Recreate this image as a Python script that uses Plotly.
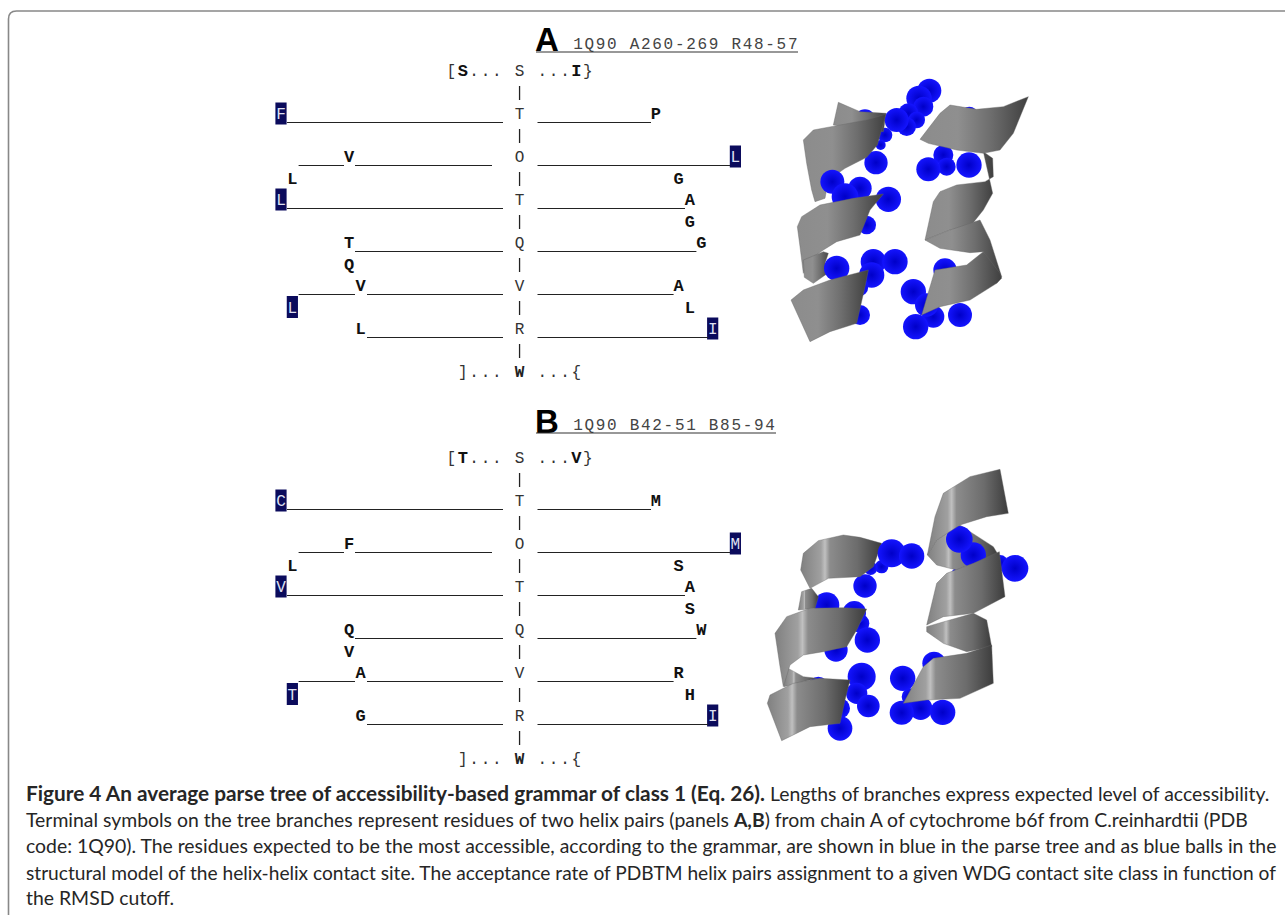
import plotly.graph_objects as go

# ---------- parse tree data ----------
TREE_SPINE = ["S", "T", "O", "T", "Q", "V", "R", "W"]
TERMINAL_COLS = [16, 26, 0, 33, 6, 40, 1, 35, 0, 36, 36, 6, 37, 6, 7, 35, 1, 36, 7, 38]
TERMINAL_ROWS = [0, 0, 1, 1, 2, 2, 2.5, 2.5, 3, 3, 3.5, 4, 4, 4.5, 5, 5, 5.5, 5.5, 6, 6]
ACCESSIBLE = [2, 5, 8, 16, 19]
A_RESIDUES = list("SIFPVLLGLAGTGQVALLLI")
B_RESIDUES = list("TVCMFMLSVASQWVARTHGI")
BRANCH_X0 = [287, 298.6, 355, 287, 355, 298.6, 367, 367, 537.5, 537.5, 537.5, 537.5, 537.5, 537.5]
BRANCH_X1 = [503, 344, 492, 503, 503, 355, 503, 503, 651, 730, 685, 696.4, 673.6, 708]
BRANCH_ROW = [1, 2, 2, 3, 4, 5, 5, 6, 1, 2, 3, 4, 5, 6]
PANEL_TOP = {"A": 71, "B": 458}
PANEL_HEAD = {"A": "1Q90 A260-269 R48-57", "B": "1Q90 B42-51 B85-94"}
PANEL_RULE = {"A": 798, "B": 776}

# ---------- structural models (3x crop coordinates) ----------
A_ORIGIN = (770, 70)
B_ORIGIN = (760, 460)
GRAY_A = [[0, "#8c8c8c"], [0.35, "#8f8f8f"], [0.65, "#6e6e6e"], [1, "#3f3f3f"]]
GRAY_B = [[0, "#808080"], [0.25, "#a0a0a0"], [0.3, "#c0c0c0"], [0.36, "#8c8c8c"], [0.7, "#6c6c6c"], [1, "#3c3c3c"]]

A_SCENE = [
    ("balls", [(285,150,32),(598,135,25),(478,62,36),(447,85,38),(460,110,30),(415,130,30),(440,150,25),(410,170,28),(345,195,22),(332,225,15),(318,278,35)]),
    ("ribbon", [(205,97),(270,125),(348,130),(340,185),(190,165)]),
    ("balls", [(380,150,36)]),
    ("ribbon", [(348,132),(290,150),(200,167),(130,180),(100,210),(110,280),(125,360),(135,395),(165,385),(175,330),(225,295),(290,262),(322,225)]),
    ("ribbon", [(640,245),(668,265),(670,320),(645,335),(560,345),(510,365),(490,395),(465,510),(540,480),(600,470),(640,420),(668,370)]),
    ("balls", [(520,255,30),(530,290,27),(597,285,38),(475,298,36),(187,335,36),(270,355,35),(225,380,40),(355,388,38),(290,465,28)]),
    ("ribbon", [(775,80),(700,110),(620,118),(540,105),(510,130),(450,208),(475,220),(560,240),(640,250),(690,240),(730,190)]),
    ("ribbon", [(340,372),(250,385),(150,405),(95,440),(82,470),(90,530),(100,610),(110,575),(160,540),(200,515),(270,495),(300,420)]),
    ("ribbon", [(100,570),(160,545),(175,550),(165,580),(180,605),(130,640),(103,622)]),
    ("ribbon", [(465,510),(540,480),(630,450),(660,510),(695,620),(680,640),(640,545),(600,548),(510,535)]),
    ("balls", [(525,600,35),(200,595,38),(310,575,38),(375,575,38),(305,615,38),(265,650,30),(270,735,30),(430,665,38),(490,740,33),(570,735,36),(470,705,35),(437,770,38)]),
    ("ribbon", [(295,600),(180,630),(100,660),(63,690),(120,815),(180,785),(260,760),(285,650)]),
    ("ribbon", [(640,545),(690,610),(695,625),(680,640),(600,690),(510,710),(455,735),(495,600),(590,585)]),
]

B_SCENE = [
    ("balls", [(365,320,20),(332,325,20),(315,378,35),(200,435,38),(300,490,28),(228,570,35),(175,680,30),(240,745,30),(590,340,15),(522,610,35),(720,310,25),(450,710,25)]),
    ("ribbon", [(115,450),(125,395),(155,385),(175,410),(165,445)]),
    ("ribbon", [(365,250),(300,232),(250,225),(175,242),(130,280),(122,330),(150,385),(205,355),(300,350),(340,320)]),
    ("balls", [(395,280,42),(455,288,38),(283,458,35),(322,540,38),(765,325,40)]),
    ("ribbon", [(502,285),(530,240),(600,195),(630,215),(700,260),(715,285),(640,310),(590,330),(530,315)]),
    ("balls", [(640,285,38),(598,238,40)]),
    ("ribbon", [(720,28),(630,50),(550,100),(525,170),(502,285),(530,240),(600,195),(680,170),(745,160)]),
    ("ribbon", [(75,620),(130,650),(170,655),(72,680)]),
    ("ribbon", [(320,447),(250,443),(150,445),(80,470),(45,520),(60,620),(70,680),(90,615),(130,585),(190,575),(260,560),(290,510)]),
    ("ribbon", [(500,500),(640,460),(680,480),(695,560),(620,575),(550,550),(500,515)]),
    ("ribbon", [(718,275),(640,310),(560,340),(530,370),(500,495),(550,470),(640,460),(735,410)]),
    ("balls", [(305,650,42),(290,700,32),(325,738,34),(240,805,37),(428,655,38),(482,745,35),(425,758,36),(548,757,38)]),
    ("ribbon", [(270,660),(180,655),(100,670),(30,705),(22,730),(65,842),(150,800),(240,790),(255,720)]),
    ("ribbon", [(695,555),(620,580),(520,595),(490,620),(430,730),(500,720),(600,715),(700,670)]),
]

# ---------- caption ----------
CAPTION = [
    "<span style=\"font-size:20.8px\"><b>Figure 4 An average parse tree of accessibility-based grammar of class 1 (Eq. 26).</b></span> Lengths of branches express expected level of accessibility.",
    "Terminal symbols on the tree branches represent residues of two helix pairs (panels <b>A,B</b>) from chain A of cytochrome b6f from C.reinhardtii (PDB",
    "code: 1Q90). The residues expected to be the most accessible, according to the grammar, are shown in blue in the parse tree and as blue balls in the",
    "structural model of the helix-helix contact site. The acceptance rate of PDBTM helix pairs assignment to a given WDG contact site class in function of",
    "the RMSD cutoff.",
]
CAPTION_Y = [792.5, 819, 845.5, 872, 897.5]
CAPTION_SIZE = [19.4, 19.4, 19.4, 19.15, 19.4]

CELL = 11.36
COL0 = 281
ROW_H = 43
MONO = "Liberation Mono, monospace"
NAVY = "#0b0b5c"


def col_x(c):
    return COL0 + CELL * c


def add_text(fig, xs, ys, chars, size=16, color="#222", font=MONO):
    fig.add_trace(go.Scatter(x=xs, y=[y + 1 for y in ys], mode="text", text=chars, textposition="middle center",
                             textfont=dict(family=font, size=size, color=color),
                             hoverinfo="skip", showlegend=False))


def draw_tree(fig, key, residues):
    top = PANEL_TOP[key]
    add_text(fig, [col_x(21)] * 7, [top + ROW_H * i for i in range(7)], TREE_SPINE[:7], color="#333")
    add_text(fig, [col_x(21)], [top + ROW_H * 7], ["<b>W</b>"], color="#222")
    xs, ys = [], []
    for i in range(7):
        xs += [col_x(21), col_x(21), None]
        ys += [top + ROW_H * i + 15, top + ROW_H * i + 29, None]
    fig.add_trace(go.Scatter(x=xs, y=ys, mode="lines", line=dict(color="#222", width=1.3),
                             hoverinfo="skip", showlegend=False))
    xs, ys = [], []
    for x0, x1, r in zip(BRANCH_X0, BRANCH_X1, BRANCH_ROW):
        y = top + ROW_H * r + 8.5
        xs += [x0, x1, None]
        ys += [y, y, None]
    fig.add_trace(go.Scatter(x=xs, y=ys, mode="lines", line=dict(color="#222", width=1.2),
                             hoverinfo="skip", showlegend=False))
    add_text(fig, [col_x(c) for c in (15, 17, 18, 19, 23, 24, 25, 27)], [top] * 8,
             ["[", ".", ".", ".", ".", ".", ".", "}"], color="#333")
    add_text(fig, [col_x(c) for c in (16, 17, 18, 19, 23, 24, 25, 26)], [top + ROW_H * 7] * 8,
             ["]", ".", ".", ".", ".", ".", ".", "{"], color="#333")
    bold_x, bold_y, bold_t, hi_x, hi_y, hi_t = [], [], [], [], [], []
    for i, (c, r, ch) in enumerate(zip(TERMINAL_COLS, TERMINAL_ROWS, residues)):
        x, y = col_x(c), top + ROW_H * r
        if i in ACCESSIBLE:
            hi_x.append(x); hi_y.append(y); hi_t.append(ch)
            fig.add_shape(type="rect", x0=x - 5.6, x1=x + 5.6, y0=y - 11.5, y1=y + 10.5,
                          fillcolor=NAVY, line_width=0, layer="below")
        else:
            bold_x.append(x); bold_y.append(y); bold_t.append(f"<b>{ch}</b>")
    add_text(fig, bold_x, bold_y, bold_t, size=17, color="#111")
    add_text(fig, hi_x, hi_y, hi_t, color="#dfe0f2")
    head_y = {"A": 43.5, "B": 425}[key]
    rule_y = {"A": 52, "B": 433}[key]
    big_y = {"A": 42, "B": 423.5}[key]
    add_text(fig, [547], [big_y], [f"<b>{key}</b>"], size=33, color="#000", font="Liberation Sans")
    head = PANEL_HEAD[key]
    add_text(fig, [578 + 11.3 * i for i in range(len(head))], [head_y] * len(head), list(head), size=16, color="#444")
    fig.add_trace(go.Scatter(x=[536, PANEL_RULE[key]], y=[rule_y, rule_y], mode="lines",
                             line=dict(color="#333", width=1.2), hoverinfo="skip", showlegend=False))


def draw_scene(fig, scene, origin, gray):
    ox, oy = origin
    for kind, items in scene:
        if kind == "ribbon":
            xs = [ox + p[0] / 3 for p in items] + [ox + items[0][0] / 3]
            ys = [oy + p[1] / 3 for p in items] + [oy + items[0][1] / 3]
            fig.add_trace(go.Scatter(x=xs, y=ys, mode="lines", fill="toself",
                                     fillgradient=dict(type="horizontal", colorscale=gray),
                                     line=dict(width=0.4, color="#666", simplify=False),
                                     hoverinfo="skip", showlegend=False))
        else:
            fig.add_trace(go.Scatter(x=[ox + b[0] / 3 for b in items], y=[oy + b[1] / 3 for b in items],
                                     mode="markers",
                                     marker=dict(size=[b[2] * 2 / 3 for b in items], color="#1414ff", opacity=1,
                                                 gradient=dict(type="radial", color="#0000c8"),
                                                 line=dict(width=0)),
                                     hoverinfo="skip", showlegend=False))


fig = go.Figure()
draw_tree(fig, "A", A_RESIDUES)
draw_tree(fig, "B", B_RESIDUES)
draw_scene(fig, A_SCENE, A_ORIGIN, GRAY_A)
draw_scene(fig, B_SCENE, B_ORIGIN, GRAY_B)

for line, y, s in zip(CAPTION, CAPTION_Y, CAPTION_SIZE):
    fig.add_annotation(x=23.7, y=y, xref="x", yref="y", text=line, showarrow=False, xanchor="left", yanchor="middle",
                       font=dict(family="Lato", size=s, color="#262626"))

fig.add_shape(type="path", path="M 8.5 915 L 8.5 19 Q 8.5 11 16.5 11 L 1285 11",
              line=dict(color="#888", width=1.6), layer="below")

fig.update_layout(
    width=1285, height=915, margin=dict(l=0, r=0, t=0, b=0), showlegend=False,
    paper_bgcolor="white", plot_bgcolor="white",
    xaxis=dict(range=[0, 1285], visible=False, fixedrange=True),
    yaxis=dict(range=[915, 0], visible=False, fixedrange=True),
)
fig.write_html("out.html", config={"displayModeBar": False},
               post_script="document.body.style.margin='0';document.body.style.overflow='hidden';")
